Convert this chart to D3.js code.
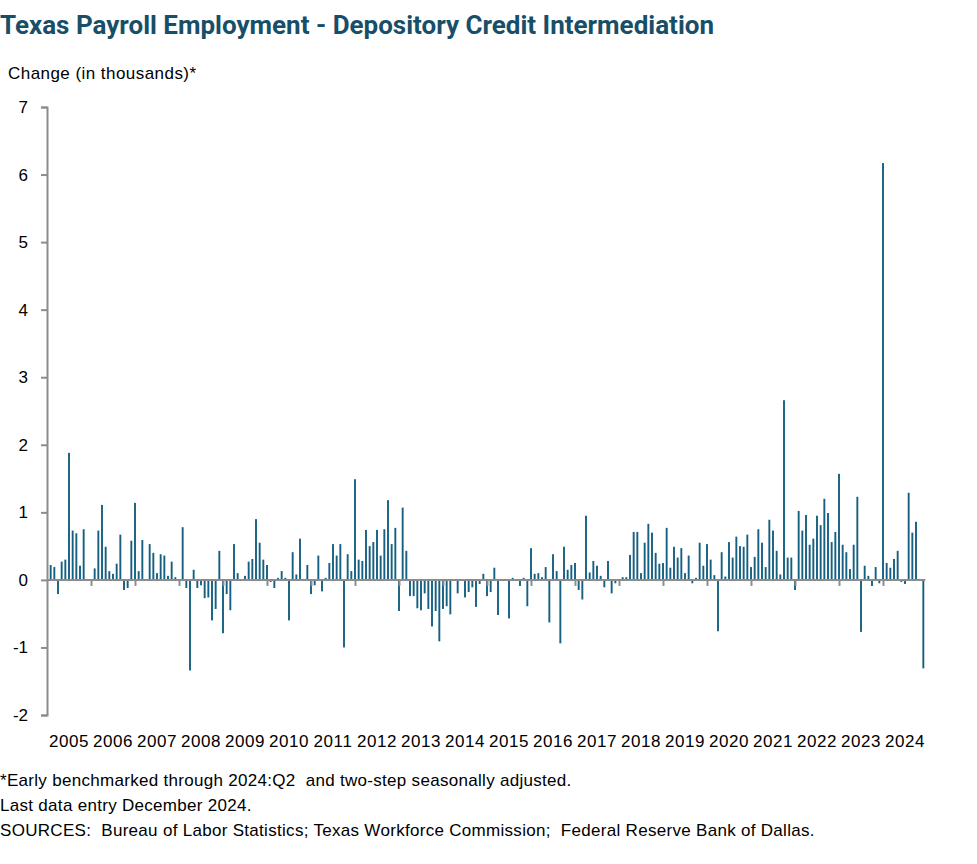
<!DOCTYPE html>
<html>
<head>
<meta charset="utf-8">
<script src="https://cdn.jsdelivr.net/npm/d3@7"></script>
<style>
  html, body { margin: 0; padding: 0; background: #ffffff; }
  svg { display: block; }
  text { font-family: "Liberation Sans", Arial, sans-serif; fill: #000; }
</style>
</head>
<body>
<svg id="chart" width="977" height="864"></svg>
<script>
// ---- Data (monthly change, thousands; Jan 2005 .. Dec 2024) ----
const startYear = 2005;
const yearLabels = ["2005","2006","2007","2008","2009","2010","2011","2012","2013","2014",
                    "2015","2016","2017","2018","2019","2020","2021","2022","2023","2024"];
const yTicks = [-2, -1, 0, 1, 2, 3, 4, 5, 6, 7];
const changes = [
  /*2005*/ null, 0.22, 0.19, -0.21, 0.27, 0.30, 1.88, 0.73, 0.69, 0.21, 0.75, 0,
  /*2006*/ 0, 0.17, 0.73, 1.11, 0.49, 0.13, 0.09, 0.24, 0.67, -0.15, -0.12, 0.58,
  /*2007*/ 1.14, 0.13, 0.59, 0, 0.53, 0.40, 0.10, 0.38, 0.36, 0.06, 0.27, 0.04,
  /*2008*/ 0, 0.78, -0.12, -1.34, 0.15, -0.12, -0.08, -0.27, -0.26, -0.60, -0.43, 0.43,
  /*2009*/ -0.79, -0.21, -0.45, 0.53, 0.10, 0, 0.06, 0.27, 0.31, 0.90, 0.55, 0.30,
  /*2010*/ 0.22, -0.03, -0.12, 0.03, 0.13, 0.03, -0.60, 0.41, 0.08, 0.61, 0, 0.22,
  /*2011*/ -0.21, -0.08, 0.36, -0.17, 0.03, 0.25, 0.53, 0.36, 0.53, -1.00, 0.38, 0.13,
  /*2012*/ 1.49, 0.30, 0.28, 0.74, 0.50, 0.56, 0.74, 0.36, 0.75, 1.18, 0.53, 0.77,
  /*2013*/ -0.46, 1.07, 0.43, -0.24, -0.24, -0.42, -0.45, -0.20, -0.43, -0.69, -0.46, -0.91,
  /*2014*/ -0.43, -0.39, -0.51, 0, -0.20, 0, -0.26, -0.18, -0.11, -0.40, -0.06, 0.09,
  /*2015*/ -0.24, -0.18, 0.18, -0.52, 0, 0, -0.57, 0.03, 0, -0.09, 0.03, -0.39,
  /*2016*/ 0.47, 0.09, 0.10, 0.04, 0.19, -0.63, 0.38, 0.13, -0.94, 0.49, 0.15, 0.22,
  /*2017*/ 0.25, -0.15, -0.29, 0.95, 0.11, 0.28, 0.21, 0.06, -0.11, 0.28, -0.20, -0.05,
  /*2018*/ 0, 0.04, 0.04, 0.37, 0.71, 0.71, 0.10, 0.55, 0.83, 0.70, 0.40, 0.24,
  /*2019*/ 0.25, 0.77, 0.18, 0.49, 0.33, 0.47, 0.10, 0.36, -0.05, 0.03, 0.55, 0.21,
  /*2020*/ 0.53, 0.30, 0.07, -0.76, 0.41, 0.05, 0.56, 0.33, 0.64, 0.50, 0.49, 0.67,
  /*2021*/ 0.19, 0.34, 0.75, 0.55, 0.19, 0.89, 0.73, 0.43, 0.08, 2.66, 0.33, 0.33,
  /*2022*/ -0.15, 1.02, 0.73, 0.96, 0.52, 0.61, 0.95, 0.81, 1.20, 0.99, 0.56, 0.71,
  /*2023*/ 1.57, 0.52, 0.41, 0.16, 0.52, 1.23, -0.77, 0.21, 0.06, -0.09, 0.19, -0.05,
  /*2024*/ 6.17, 0.25, 0.18, 0.31, 0.43, -0.03, -0.06, 1.29, 0.70, 0.86, 0, -1.31
];

const titleText = "Texas Payroll Employment - Depository Credit Intermediation";
const yAxisTitle = "Change (in thousands)*";
const footnotes = [
  "*Early benchmarked through 2024:Q2  and two-step seasonally adjusted.",
  "Last data entry December 2024.",
  "SOURCES:  Bureau of Labor Statistics; Texas Workforce Commission;  Federal Reserve Bank of Dallas."
];

// ---- Drawing ----
const svg = d3.select("#chart");
const barColor = "#156082";
const axisColor = "#8c8c8c";

const nMonths = yearLabels.length * 12;
const x = d3.scaleLinear().domain([0, nMonths]).range([47, 927]);
const y = d3.scaleLinear().domain([-2, 7]).range([715, 107]);

const data = changes.map((v, i) => ({ i, v })).filter(d => d.v !== null && d.v !== 0);

// Title
const title = svg.append("text")
  .attr("x", 0).attr("y", 34)
  .style("font-family", "Roboto, 'Liberation Sans', sans-serif")
  .style("font-weight", "700")
  .style("font-size", "25px")
  .style("fill", "#174e68")
  .text(titleText);
title.attr("textLength", 714).attr("lengthAdjust", "spacingAndGlyphs");

// Y axis title
svg.append("text")
  .attr("x", 8).attr("y", 79)
  .style("font-size", "17px")
  .style("letter-spacing", "0.45px")
  .text(yAxisTitle);

// Bars
const bw = 1.9;
svg.append("g").selectAll("rect")
  .data(data)
  .join("rect")
  .attr("x", d => x(d.i) - bw / 2)
  .attr("width", bw)
  .attr("y", d => y(Math.max(0, d.v)))
  .attr("height", d => Math.abs(y(d.v) - y(0)))
  .attr("fill", barColor);

// Y axis
const yAxis = d3.axisLeft(y).tickValues(yTicks).tickSize(6).tickPadding(13)
  .tickFormat(d => String(d));
const gy = svg.append("g").attr("transform", `translate(${x(0)},0)`).call(yAxis);
gy.select(".domain").attr("stroke", axisColor).attr("stroke-width", 2);
gy.selectAll(".tick line").attr("stroke", axisColor).attr("stroke-width", 2);
gy.selectAll(".tick text")
  .style("font-family", "'Liberation Sans', Arial, sans-serif")
  .style("font-size", "17px").attr("fill", "#000");

// X axis at zero: line + January ticks
const xAxis = d3.axisBottom(x)
  .tickValues(d3.range(12, nMonths, 12))
  .tickSize(6).tickSizeOuter(0).tickFormat("");
const gx = svg.append("g").attr("transform", `translate(0,${y(0)})`).call(xAxis);
gx.select(".domain").attr("stroke", axisColor).attr("stroke-width", 2)
  .attr("d", `M${x(0)},0H${x(nMonths - 1) + 2}`);
gx.selectAll(".tick line").attr("stroke", axisColor).attr("stroke-width", 2);

// Year labels (centered under each year)
svg.append("g").selectAll("text")
  .data(yearLabels)
  .join("text")
  .attr("x", (d, k) => x(k * 12 + 6))
  .attr("y", 747)
  .attr("text-anchor", "middle")
  .style("font-size", "17px")
  .style("letter-spacing", "0.6px")
  .text(d => d);

// Footnotes
svg.append("g").selectAll("text")
  .data(footnotes)
  .join("text")
  .attr("x", 0)
  .attr("y", (d, k) => 786 + k * 25)
  .style("font-size", "17px")
  .style("letter-spacing", "0.3px")
  .style("white-space", "pre")
  .attr("xml:space", "preserve")
  .text(d => d);
</script>
</body>
</html>
